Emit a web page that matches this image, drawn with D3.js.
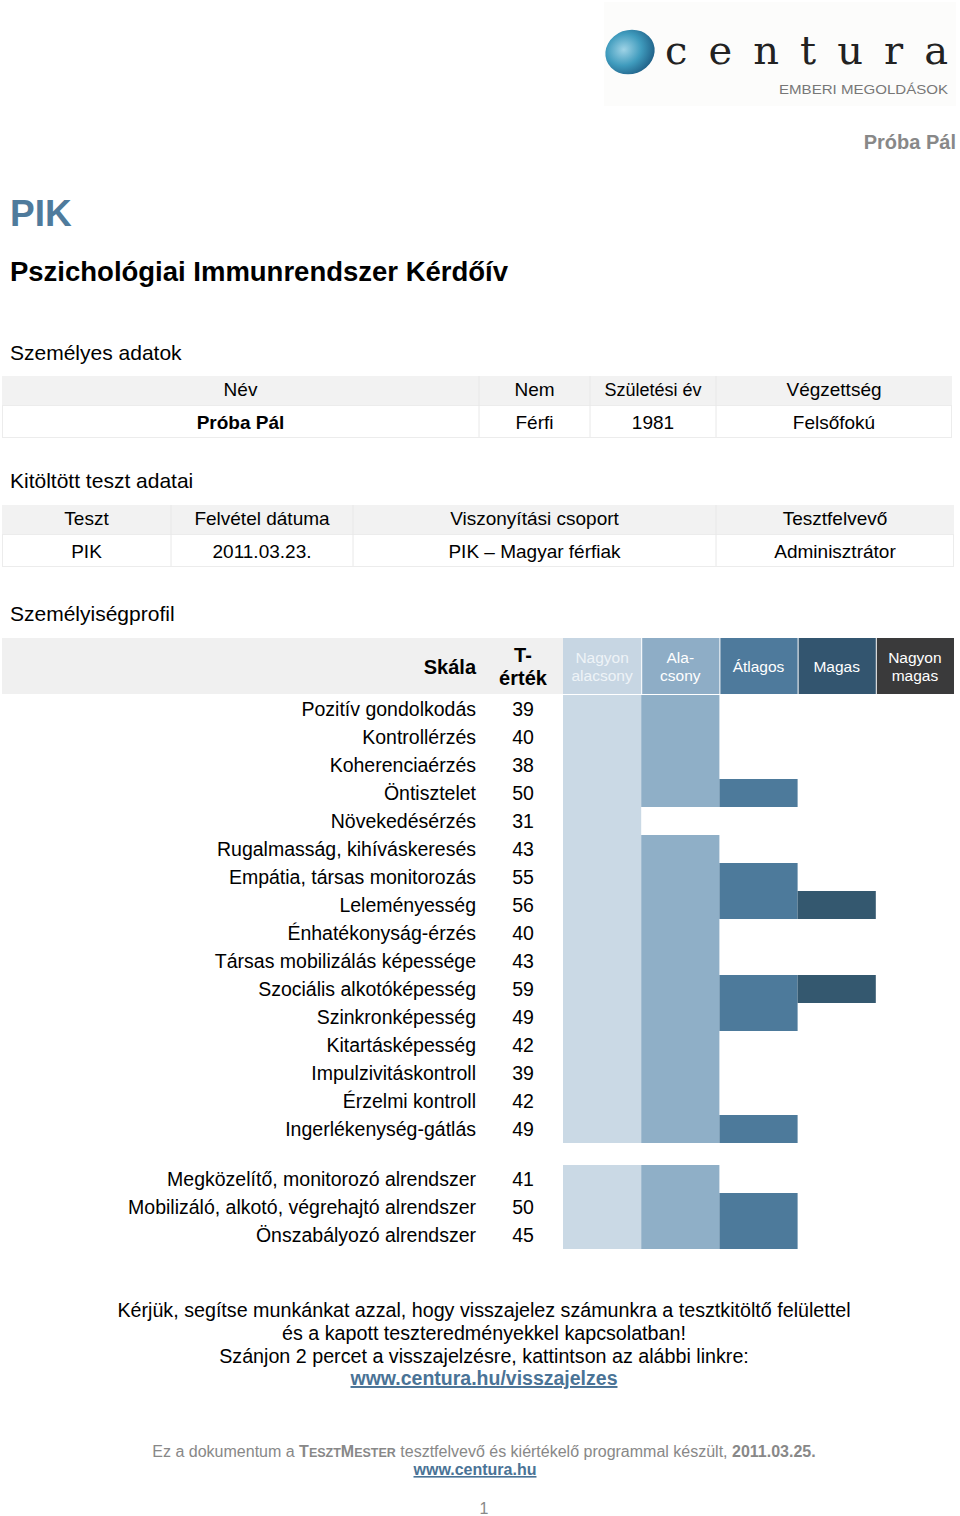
<!DOCTYPE html>
<html><head><meta charset="utf-8">
<script src="https://cdn.jsdelivr.net/npm/d3@7"></script>
<style>body{margin:0;background:#fff}svg{display:block;font-family:"Liberation Sans",Arial,sans-serif}</style>
</head><body>
<script>
const scaleNames = ["Pozitív gondolkodás","Kontrollérzés","Koherenciaérzés","Öntisztelet","Növekedésérzés","Rugalmasság, kihíváskeresés","Empátia, társas monitorozás","Leleményesség","Énhatékonyság-érzés","Társas mobilizálás képessége","Szociális alkotóképesség","Szinkronképesség","Kitartásképesség","Impulzivitáskontroll","Érzelmi kontroll","Ingerlékenység-gátlás"];
const scaleValues = [39,40,38,50,31,43,55,56,40,43,59,49,42,39,42,49];
const systemNames = ["Megközelítő, monitorozó alrendszer","Mobilizáló, alkotó, végrehajtó alrendszer","Önszabályozó alrendszer"];
const systemValues = [41,50,45];
const bandLabels = [["Nagyon","alacsony"],["Ala-","csony"],["Átlagos"],["Magas"],["Nagyon","magas"]];
const bandThresholds = [35,45,56,66];
const table1Head = ["Név","Nem","Születési év","Végzettség"];
const table1Row = ["Próba Pál","Férfi","1981","Felsőfokú"];
const table2Head = ["Teszt","Felvétel dátuma","Viszonyítási csoport","Tesztfelvevő"];
const table2Row = ["PIK","2011.03.23.","PIK – Magyar férfiak","Adminisztrátor"];

const W=960,H=1516;
const svg=d3.select("body").append("svg").attr("width",W).attr("height",H);

// logo
const defs=svg.append("defs");
const rg=defs.append("radialGradient").attr("id","lg").attr("cx","40%").attr("cy","40%").attr("r","65%");
rg.append("stop").attr("offset","0%").attr("stop-color","#9fd3e6");
rg.append("stop").attr("offset","55%").attr("stop-color","#3f9bbd");
rg.append("stop").attr("offset","100%").attr("stop-color","#1f5f86");
svg.append("rect").attr("x",604).attr("y",2).attr("width",352).attr("height",104).attr("fill","#fcfcfb");
svg.append("ellipse").attr("cx",630).attr("cy",52).attr("rx",25).attr("ry",22).attr("fill","url(#lg)").attr("transform","rotate(-20,630,52)");
svg.append("text").attr("x",665).attr("y",64).attr("font-family","'DejaVu Serif',serif").attr("font-size",40).attr("fill","#222")
  .attr("textLength",283).attr("lengthAdjust","spacing").text("centura");
svg.append("text").attr("x",779).attr("y",94).attr("font-size",13).attr("fill","#777").attr("textLength",169).attr("lengthAdjust","spacingAndGlyphs").text("EMBERI MEGOLDÁSOK");

svg.append("text").attr("x",956).attr("y",149).attr("text-anchor","end").attr("font-size",20).attr("font-weight","bold").attr("fill","#888").text("Próba Pál");
svg.append("text").attr("x",10).attr("y",226).attr("font-size",37).attr("font-weight","bold").attr("fill","#4f7b9c").text("PIK");
svg.append("text").attr("x",10).attr("y",281).attr("font-size",27).attr("font-weight","bold").attr("fill","#000").attr("textLength",498).attr("lengthAdjust","spacingAndGlyphs").text("Pszichológiai Immunrendszer Kérdőív");

function section(t,y){svg.append("text").attr("x",10).attr("y",y).attr("font-size",21).attr("fill","#000").text(t);}
section("Személyes adatok",360);
section("Kitöltött teszt adatai",488);
section("Személyiségprofil",621);

function table(y0,heads,row,edges,boldFirst){
  const g=svg.append("g");
  g.append("rect").attr("x",edges[0]).attr("y",y0).attr("width",edges[edges.length-1]-edges[0]).attr("height",29).attr("fill","#f2f2f2");
  g.append("rect").attr("x",edges[0]+0.5).attr("y",y0+29.5).attr("width",edges[edges.length-1]-edges[0]-1).attr("height",32).attr("fill","#fff").attr("stroke","#ececec");
  for(let i=1;i<edges.length-1;i++){
    g.append("line").attr("x1",edges[i]).attr("x2",edges[i]).attr("y1",y0).attr("y2",y0+61).attr("stroke","#e8e8e8");
  }
  heads.forEach((h,i)=>{
    const cx=(edges[i]+edges[i+1])/2;
    g.append("text").attr("x",cx).attr("y",y0+20).attr("text-anchor","middle").attr("font-size",i===2&&heads===table1Head?18:19).text(h);
    g.append("text").attr("x",cx).attr("y",y0+53).attr("text-anchor","middle").attr("font-size",19)
     .attr("font-weight",boldFirst&&i===0?"bold":"normal").text(row[i]);
  });
}
table(376,table1Head,table1Row,[2,479,590,716,952],true);
table(505,table2Head,table2Row,[2,171,353,716,954],false);

// chart
const x=d3.scaleBand().domain(d3.range(5)).range([563,954]).paddingInner(0);
const level=d3.scaleThreshold().domain(bandThresholds).range([1,2,3,4,5]);
const headFill=["#c7d6e3","#8eadc6","#4e7a9c","#33556f","#3a3a3b"];
const barFill=["#cad9e5","#8fafc7","#4d7a9b","#34586f","#333333"];
const rowH=28;
const hy=638, hh=56;
svg.append("rect").attr("x",2).attr("y",hy).attr("width",561).attr("height",hh).attr("fill","#f0f0f0");
svg.append("text").attr("x",476).attr("y",674).attr("text-anchor","end").attr("font-size",20).attr("font-weight","bold").text("Skála");
svg.append("text").attr("x",523).attr("y",662).attr("text-anchor","middle").attr("font-size",20).attr("font-weight","bold").text("T-");
svg.append("text").attr("x",523).attr("y",685).attr("text-anchor","middle").attr("font-size",20).attr("font-weight","bold").text("érték");
const hg=svg.append("g").selectAll("g").data(bandLabels).join("g");
hg.append("rect").attr("x",(d,i)=>x(i)+(i?1:0)).attr("y",hy).attr("width",(d,i)=>x.bandwidth()-(i?1:0)).attr("height",hh).attr("fill",(d,i)=>headFill[i]);
hg.each(function(d,i){
  const t=d3.select(this).append("text").attr("text-anchor","middle").attr("font-size",15.5).attr("fill",i===0?"#eef3f7":"#fff");
  const cx=x(i)+x.bandwidth()/2;
  if(d.length===1) t.append("tspan").attr("x",cx).attr("y",hy+34).text(d[0]);
  else { t.append("tspan").attr("x",cx).attr("y",hy+25).text(d[0]); t.append("tspan").attr("x",cx).attr("y",hy+43).text(d[1]); }
});

function group(names,vals,y0){
  const y=d3.scaleBand().domain(d3.range(names.length)).range([y0,y0+rowH*names.length]);
  const g=svg.append("g");
  names.forEach((n,i)=>{
    const L=level(vals[i]);
    for(let b=0;b<L;b++){
      g.append("rect").attr("x",x(b)).attr("y",y(i)).attr("width",x.bandwidth()).attr("height",y.bandwidth()).attr("fill",barFill[b]);
    }
    g.append("text").attr("x",476).attr("y",y(i)+21).attr("text-anchor","end").attr("font-size",19.5).text(n);
    g.append("text").attr("x",523).attr("y",y(i)+21).attr("text-anchor","middle").attr("font-size",19.5).text(vals[i]);
  });
}
group(scaleNames,scaleValues,695);
group(systemNames,systemValues,1165);

// bottom text
const lines=["Kérjük, segítse munkánkat azzal, hogy visszajelez számunkra a tesztkitöltő felülettel","és a kapott teszteredményekkel kapcsolatban!","Szánjon 2 percet a visszajelzésre, kattintson az alábbi linkre:"];
lines.forEach((l,i)=>svg.append("text").attr("x",484).attr("y",1317+i*23).attr("text-anchor","middle").attr("font-size",19.7).text(l));
svg.append("text").attr("x",484).attr("y",1385).attr("text-anchor","middle").attr("font-size",19.5).attr("font-weight","bold").attr("fill","#4a7396").attr("text-decoration","underline").text("www.centura.hu/visszajelzes");

const ft=svg.append("text").attr("x",484).attr("y",1457).attr("text-anchor","middle").attr("font-size",16).attr("fill","#888");
ft.append("tspan").text("Ez a dokumentum a ");
ft.append("tspan").attr("font-weight","bold").text("T");
ft.append("tspan").attr("font-weight","bold").attr("font-size",12.5).text("ESZT");
ft.append("tspan").attr("font-weight","bold").text("M");
ft.append("tspan").attr("font-weight","bold").attr("font-size",12.5).text("ESTER");
ft.append("tspan").text(" tesztfelvevő és kiértékelő programmal készült, ");
ft.append("tspan").attr("font-weight","bold").text("2011.03.25.");
svg.append("text").attr("x",475).attr("y",1475).attr("text-anchor","middle").attr("font-size",16).attr("font-weight","bold").attr("fill","#4a7396").attr("text-decoration","underline").text("www.centura.hu");
svg.append("text").attr("x",484).attr("y",1514).attr("text-anchor","middle").attr("font-size",16).attr("fill","#888").text("1");
</script>
</body></html>
